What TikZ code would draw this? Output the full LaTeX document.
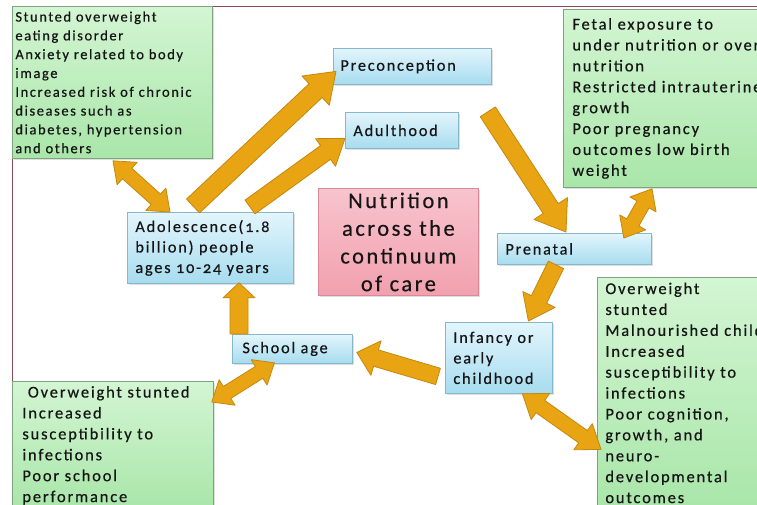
\documentclass[tikz,border=0pt]{standalone}
\usepackage{fontspec}
\setmainfont{Carlito}[LetterSpace=11,FakeBold=0.5]
\usetikzlibrary{calc,shadows}

\definecolor{flowfill}{HTML}{E9A413}
\definecolor{flowedge}{HTML}{C4880C}
\definecolor{bluetop}{HTML}{E3F5FC}
\definecolor{bluebot}{HTML}{A6DCEF}
\definecolor{blueedge}{HTML}{86B7CB}
\definecolor{greentop}{HTML}{D3F5D3}
\definecolor{greenbot}{HTML}{A9E6A9}
\definecolor{greenedge}{HTML}{7FA37F}
\definecolor{pinktop}{HTML}{F8C4CD}
\definecolor{pinkbot}{HTML}{F1A0AE}
\definecolor{pinkedge}{HTML}{D98A98}
\definecolor{framecol}{HTML}{8A4A56}
\definecolor{ink}{HTML}{151515}

\tikzset{
  box/.style={draw, line width=0.8pt, anchor=north west, inner xsep=8pt,
    inner ysep=0pt, align=left, text=ink,
    drop shadow={shadow xshift=1.5pt, shadow yshift=-1.5pt, opacity=0.25}},
  stage/.style={box, top color=bluetop, bottom color=bluebot, draw=blueedge,
    font=\fontsize{16.3}{20.5}\selectfont},
  note/.style={box, top color=greentop, bottom color=greenbot, draw=greenedge,
    font=\fontsize{16.5}{20.9}\selectfont},
  theme/.style={box, top color=pinktop, bottom color=pinkbot, draw=pinkedge,
    align=center, font=\fontsize{22.5}{27.7}\selectfont},
  flow/.style={fill=flowfill, draw=flowedge, line width=0.8pt, line join=round},
  frame/.style={draw=framecol, line width=1pt}
}

% single-headed block arrow: shaft half-width, head half-width, head length, tail, tip
\newcommand\flowarrow[5]{%
  \coordinate (fa-c) at ($(#5)!#3!(#4)$);
  \filldraw[flow] ($(#4)!#1!90:(#5)$) -- ($(fa-c)!#1!90:(#5)$)
    -- ($(fa-c)!#2!90:(#5)$) -- (#5) -- ($(fa-c)!#2!-90:(#5)$)
    -- ($(fa-c)!#1!-90:(#5)$) -- ($(#4)!#1!-90:(#5)$) -- cycle;}

% double-headed block arrow: shaft half-width, head half-width, head length, end, end
\newcommand\twowayarrow[5]{%
  \coordinate (ta-a) at ($(#4)!#3!(#5)$);
  \coordinate (ta-b) at ($(#5)!#3!(#4)$);
  \filldraw[flow] (#4) -- ($(ta-a)!#2!90:(#5)$) -- ($(ta-a)!#1!90:(#5)$)
    -- ($(ta-b)!#1!90:(#5)$) -- ($(ta-b)!#2!90:(#5)$) -- (#5)
    -- ($(ta-b)!#2!-90:(#5)$) -- ($(ta-b)!#1!-90:(#5)$)
    -- ($(ta-a)!#1!-90:(#5)$) -- ($(ta-a)!#2!-90:(#5)$) -- cycle;}

\begin{document}
\begin{tikzpicture}[x=1pt,y=-1pt]
\useasboundingbox (0,0) rectangle (757,504);
\fill[white] (0,0) rectangle (757,504);
\clip (0,0) rectangle (757,504);
\draw[frame] (12,504) -- (12,6) -- (757,6);

% outcome notes
\node[note, font=\fontsize{14.5}{18.8}\selectfont, inner xsep=3pt,
  text width=194pt, minimum height=152pt] (tl) at (12,6)
  {Stunted overweight\\ eating disorder\\ Anxiety related to body\\ image\\
   Increased risk of chronic\\ diseases such as\\ diabetes, hypertension\\ and others};
\node[note, inner xsep=9pt, text width=200pt, minimum height=178pt] (tr) at (563,9)
  {Fetal exposure to\\ under nutrition or over\\ nutrition\\ Restricted intrauterine\\
   growth\\ Poor pregnancy\\ outcomes low birth\\ weight};
\node[note, inner xsep=10pt, text width=181pt, minimum height=128pt] (bl) at (12,381)
  {\ Overweight stunted\\ Increased\\ susceptibility to\\ infections\\ Poor school\\ performance};
\node[note, inner xsep=8pt, text width=170pt, minimum height=231pt] (br) at (597,277)
  {Overweight\\ stunted\\ Malnourished child\\ Increased\\ susceptibility to\\ infections\\
   Poor cognition,\\ growth, and\\ neuro-\\ developmental\\ outcomes};

% life stages
\node[stage, inner xsep=7pt, text width=144pt, minimum height=36pt] (pre) at (333,48) {Preconception};
\node[stage, text width=97pt, minimum height=36pt] (adu) at (345,112) {Adulthood};
\node[stage, text width=150pt, minimum height=71pt] (adol) at (127,212)
  {\addfontfeatures{Numbers=OldStyle}Adolescence(1.8\\ billion) people\\ ages 10-24 years};
\node[stage, text width=138pt, minimum height=31pt] (prenatal) at (497,233) {Prenatal};
\node[stage, text width=91pt, minimum height=71pt] (inf) at (445,322) {Infancy or\\ early\\ childhood};
\node[stage, inner xsep=10pt, text width=100pt, minimum height=29pt] (sch) at (232,334) {School age};

% central theme
\node[theme, text width=144pt, minimum height=107pt] (nut) at (318,188)
  {Nutrition\\ across the\\ continuum\\ of care};

% flows between stages
\twowayarrow{7pt}{15pt}{19pt}{[shift={(101,2)}]tl.south west}{[shift={(43,0)}]adol.north west}
\flowarrow{9.5pt}{20pt}{28pt}{[shift={(66,-6)}]adol.north west}{[shift={(3,5)}]pre.west}
\flowarrow{8.5pt}{17pt}{24pt}{[shift={(123,-5)}]adol.north west}{[shift={(0,8)}]adu.west}
\flowarrow{9pt}{20pt}{28pt}{[shift={(-4,27)}]pre.south east}{[shift={(69,-1)}]prenatal.north west}
\twowayarrow{7pt}{15pt}{18pt}{[shift={(89,1)}]tr.south west}{[shift={(-28,5)}]prenatal.north east}
\flowarrow{8.5pt}{18pt}{24pt}{[shift={(59,0)}]prenatal.south west}{[shift={(29.5,-1)}]inf.north}
\flowarrow{8.5pt}{18pt}{20pt}{[shift={(-7,18.5)}]inf.west}{[shift={(4,3.5)}]sch.east}
\flowarrow{9pt}{16pt}{15pt}{[shift={(7,0)}]sch.north west}{[shift={(112,-1)}]adol.south west}
\twowayarrow{7pt}{15pt}{18pt}{[shift={(-2,21)}]bl.north east}{[shift={(-18,-1)}]sch.south}
\twowayarrow{7.5pt}{16pt}{22pt}{[shift={(23.5,0)}]inf.south}{[shift={(4,56.5)}]br.west}
\end{tikzpicture}
\end{document}
